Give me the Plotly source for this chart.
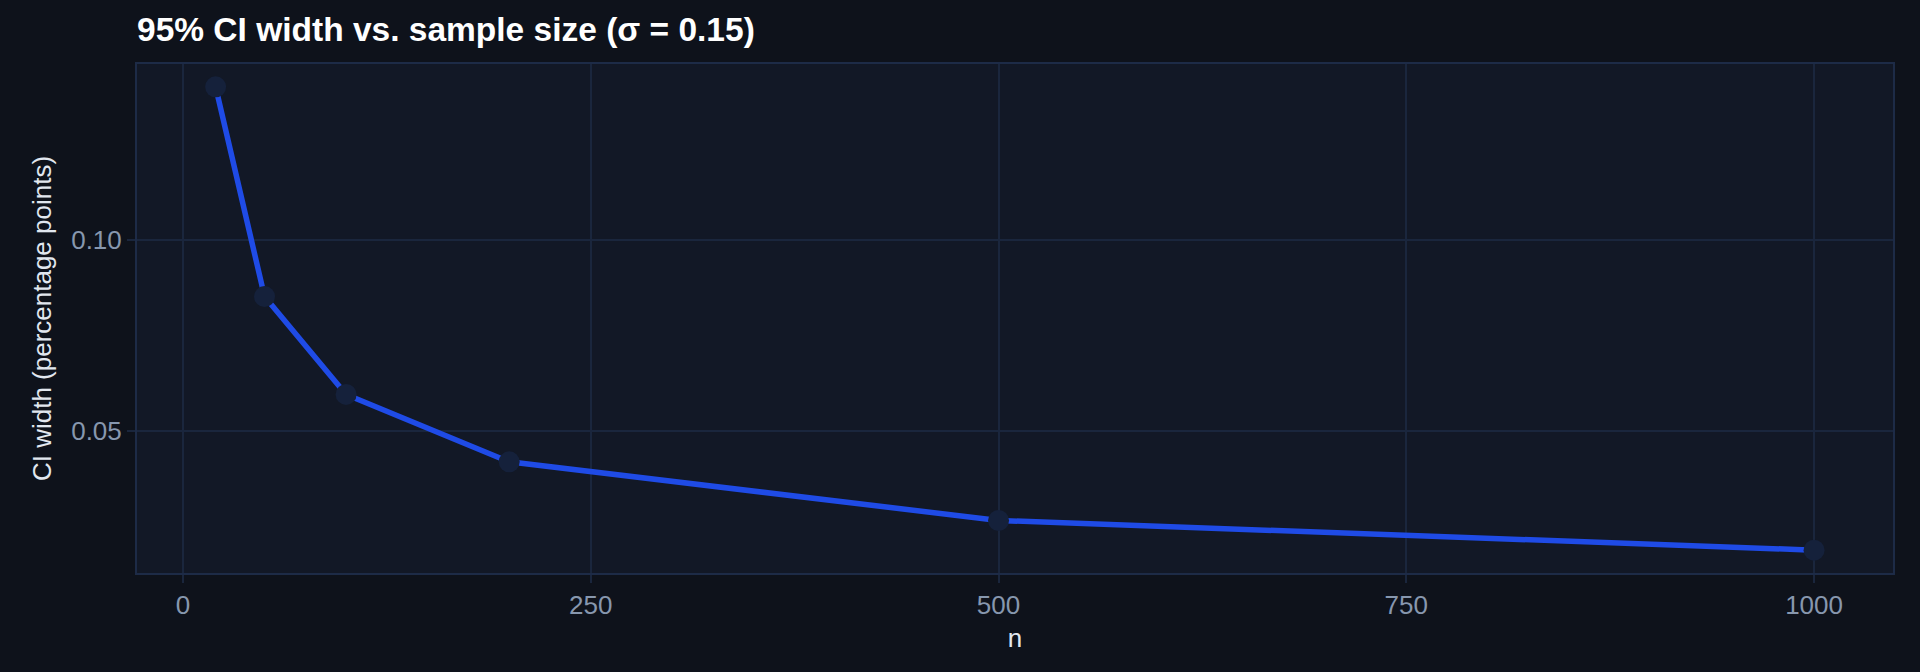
import plotly.graph_objects as go

n_values = [20, 50, 100, 200, 500, 1000]
ci_width = [0.1403, 0.0852, 0.0595, 0.0418, 0.0264, 0.0186]
x_ticks = [0, 250, 500, 750, 1000]
y_ticks = [0.05, 0.10]
y_tick_labels = ["0.05", "0.10"]

FONT = "Liberation Sans, Arial, sans-serif"
GRID = "#1a263d"

fig = go.Figure()
fig.add_trace(go.Scatter(
    x=n_values, y=ci_width, mode="lines+markers",
    line=dict(color="#1f4be6", width=5.5),
    marker=dict(color="#15213b", size=21),
    showlegend=False,
))

fig.update_layout(
    width=1920, height=672,
    paper_bgcolor="#0e121b",
    plot_bgcolor="#121826",
    margin=dict(l=137, r=27, t=64, b=99),
    font=dict(family=FONT),
    title=dict(
        text="<b>95% CI width vs. sample size (σ = 0.15)</b>",
        x=137/1920, xanchor="left", y=1 - 29/672, yanchor="middle",
        font=dict(size=33.5, color="#ffffff", family=FONT),
    ),
)
fig.update_xaxes(
    range=[-28.2, 1048.4], tickvals=x_ticks,
    showgrid=True, gridcolor=GRID, gridwidth=1.5, zeroline=False,
    showline=True, linecolor="#1d2b47", linewidth=2, mirror=True,
    ticks="outside", ticklen=8, tickcolor=GRID, tickwidth=2,
    tickfont=dict(size=26, color="#8797ae"),
    title=dict(text="n", font=dict(size=26, color="#e1e7ef"), standoff=10),
)
fig.update_yaxes(
    range=[0.0126, 0.1463], tickvals=y_ticks, ticktext=y_tick_labels,
    showgrid=True, gridcolor=GRID, gridwidth=1.5, zeroline=False,
    showline=True, linecolor="#1d2b47", linewidth=2, mirror=True,
    ticks="outside", ticklen=8, tickcolor=GRID, tickwidth=2,
    tickfont=dict(size=26, color="#8797ae"),
    title=dict(text="CI width (percentage points)", font=dict(size=26, color="#e1e7ef"), standoff=12),
)

fig.write_html("out.html", config={"displayModeBar": False})
with open("out.html", "r", encoding="utf-8") as f:
    html = f.read()
html = html.replace("<head>", "<head><style>html,body{margin:0;padding:0;background:#0e121b;overflow:hidden}</style>", 1)
with open("out.html", "w", encoding="utf-8") as f:
    f.write(html)
